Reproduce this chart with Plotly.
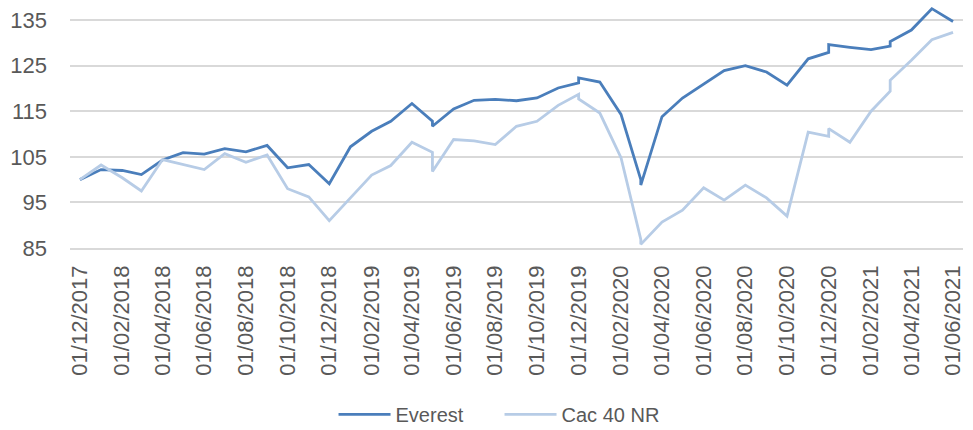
import plotly.graph_objects as go

# monthly points; a month listed twice gives the vertical steps seen in the chart
DATES = [
    "2017-12-01", "2018-01-01", "2018-02-01", "2018-03-01", "2018-04-01",
    "2018-05-01", "2018-06-01", "2018-07-01", "2018-08-01", "2018-09-01",
    "2018-10-01", "2018-11-01", "2018-12-01", "2019-01-01", "2019-02-01",
    "2019-03-01", "2019-04-01", "2019-05-01", "2019-05-01", "2019-06-01",
    "2019-07-01", "2019-08-01", "2019-09-01", "2019-10-01", "2019-11-01",
    "2019-12-01", "2019-12-01", "2020-01-01", "2020-02-01", "2020-03-01",
    "2020-03-01", "2020-04-01", "2020-05-01", "2020-06-01", "2020-07-01",
    "2020-08-01", "2020-09-01", "2020-10-01", "2020-11-01", "2020-12-01",
    "2020-12-01", "2021-01-01", "2021-02-01", "2021-03-01", "2021-03-01",
    "2021-04-01", "2021-05-01", "2021-06-01",
]
EVEREST = [
    100.0, 102.2, 102.0, 101.1, 104.3,
    105.9, 105.6, 106.8, 106.1, 107.5,
    102.6, 103.3, 99.1, 107.2, 110.6,
    112.8, 116.7, 112.8, 111.7, 115.5,
    117.4, 117.6, 117.3, 117.9, 120.1,
    121.2, 122.3, 121.4, 114.3, 100.0,
    98.8, 113.8, 117.9, 120.9, 123.9,
    125.0, 123.6, 120.7, 126.5, 127.9,
    129.6, 129.0, 128.5, 129.3, 130.3,
    132.8, 137.5, 134.7,
]
CAC40_NR = [
    100.0, 103.2, 100.4, 97.5, 104.4,
    103.3, 102.2, 105.7, 103.8, 105.4,
    98.0, 96.2, 91.0, 96.0, 101.0,
    103.1, 108.2, 106.0, 101.8, 108.8,
    108.5, 107.7, 111.7, 112.8, 116.3,
    118.7, 117.7, 114.6, 104.8, 86.9,
    85.8, 90.7, 93.3, 98.2, 95.5,
    98.8, 96.0, 92.0, 110.4, 109.5,
    111.2, 108.2, 115.0, 119.4, 121.8,
    126.2, 130.7, 132.3,
]

TEXT_COLOR = "#595959"
GRID_COLOR = "#D9D9D9"
FONT = "Liberation Sans"

fig = go.Figure()
fig.add_trace(go.Scatter(
    x=DATES, y=EVEREST, mode="lines", name="Everest",
    line=dict(color="#4A7EBB", width=2.8),
))
fig.add_trace(go.Scatter(
    x=DATES, y=CAC40_NR, mode="lines", name="Cac 40 NR",
    line=dict(color="#B7CCE6", width=2.8),
))

fig.update_layout(
    width=973,
    height=430,
    margin=dict(l=70, r=10, t=0, b=182, autoexpand=False),
    plot_bgcolor="white",
    paper_bgcolor="white",
    font=dict(family=FONT, color=TEXT_COLOR, size=22),
    showlegend=True,
    legend=dict(
        orientation="h",
        x=0.481,
        xanchor="center",
        y=-0.671,
        yanchor="middle",
        font=dict(size=20, color=TEXT_COLOR),
        itemwidth=52,
        entrywidth=99,
        bgcolor="rgba(0,0,0,0)",
    ),
    xaxis=dict(
        type="date",
        range=["2017-11-16 12:00", "2021-06-15 14:00"],
        tick0="2017-12-01",
        dtick="M2",
        tickformat="%d/%m/%Y",
        tickangle=-90,
        tickfont=dict(size=22, color=TEXT_COLOR),
        showgrid=False,
        zeroline=False,
        showline=True,
        linecolor=GRID_COLOR,
        linewidth=1.5,
        ticks="",
        ticklabelstandoff=7,
    ),
    yaxis=dict(
        range=[85, 139.4],
        tick0=85,
        dtick=10,
        tickfont=dict(size=22, color=TEXT_COLOR),
        showgrid=True,
        gridcolor=GRID_COLOR,
        gridwidth=1.5,
        zeroline=False,
        showline=False,
        ticks="",
        ticklabelstandoff=22,
    ),
)

# the page body has a default 8px margin; drop it so the figure fills the window
fig.write_html(
    "out.html",
    config={"displayModeBar": False},
    post_script="document.body.style.margin='0px';",
)
